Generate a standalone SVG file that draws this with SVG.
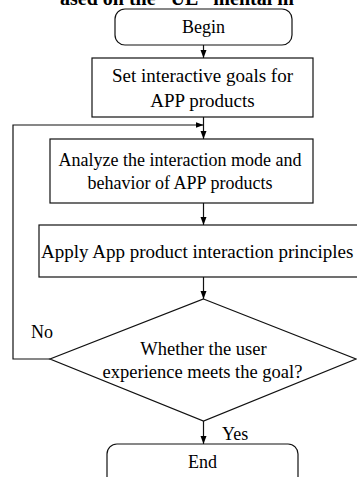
<svg xmlns="http://www.w3.org/2000/svg" width="357" height="477" viewBox="0 0 357 477">
  <defs>
    <marker id="arrow" viewBox="0 0 8 8" refX="8" refY="4" markerWidth="8" markerHeight="8" markerUnits="userSpaceOnUse" orient="auto">
      <path d="M0,1 L8,4 L0,7 Z" fill="#000"/>
    </marker>
  </defs>
  <style>
    .box { fill: #fff; stroke: #111; stroke-width: 1.2; }
    .link { fill: none; stroke: #111; stroke-width: 1.2; }
    .lbl { font-family: "Liberation Serif", "Times New Roman", serif; font-size: 18px; fill: #000; }
    .mid { text-anchor: middle; }
    .cap { font-family: "Liberation Serif", "Times New Roman", serif; font-size: 20px; font-weight: bold; fill: #000; }
  </style>
  <rect width="357" height="477" fill="#fff"/>

  <!-- title line running off the top edge -->
  <text class="cap" x="60" y="5">ased on the “UE” mental m</text>

  <g id="connectors">
    <line class="link" x1="203.5" y1="45" x2="203.5" y2="58" marker-end="url(#arrow)"/>
    <line class="link" x1="203.5" y1="117" x2="203.5" y2="139" marker-end="url(#arrow)"/>
    <polyline class="link" points="50,359 13,359 13,125 203.5,125" marker-end="url(#arrow)"/>
    <line class="link" x1="203.5" y1="203" x2="203.5" y2="225" marker-end="url(#arrow)"/>
    <line class="link" x1="203.5" y1="277" x2="203.5" y2="299" marker-end="url(#arrow)"/>
    <line class="link" x1="203.5" y1="421" x2="203.5" y2="444" marker-end="url(#arrow)"/>
  </g>

  <g id="begin">
    <rect class="box" x="115" y="9" width="177" height="36" rx="10"/>
    <text class="lbl mid" x="203.5" y="33">Begin</text>
  </g>

  <g id="set-goals">
    <rect class="box" x="92" y="58" width="221" height="59"/>
    <text class="lbl mid" x="202.5" y="82" style="font-size:19px">Set interactive goals for</text>
    <text class="lbl mid" x="202.5" y="107" style="font-size:19px">APP products</text>
  </g>

  <g id="analyze">
    <rect class="box" x="50" y="139" width="263" height="64"/>
    <text class="lbl mid" x="180" y="166">Analyze the interaction mode and</text>
    <text class="lbl mid" x="180" y="189">behavior of APP products</text>
  </g>

  <g id="apply">
    <rect class="box" x="39" y="225" width="330" height="52"/>
    <text class="lbl" x="41" y="258" style="font-size:19px">Apply App product interaction principles</text>
  </g>

  <g id="decision">
    <polygon class="box" points="203.5,299 356,359 203.5,421 50,359"/>
    <text class="lbl mid" x="203.5" y="355" style="font-size:18.5px">Whether the user</text>
    <text class="lbl mid" x="202.5" y="378" style="font-size:18.5px">experience meets the goal?</text>
  </g>

  <text class="lbl" x="31" y="338">No</text>
  <text class="lbl" x="222" y="440">Yes</text>

  <g id="end">
    <rect class="box" x="107" y="444" width="191" height="50" rx="10"/>
    <text class="lbl mid" x="202.5" y="468">End</text>
  </g>
</svg>
